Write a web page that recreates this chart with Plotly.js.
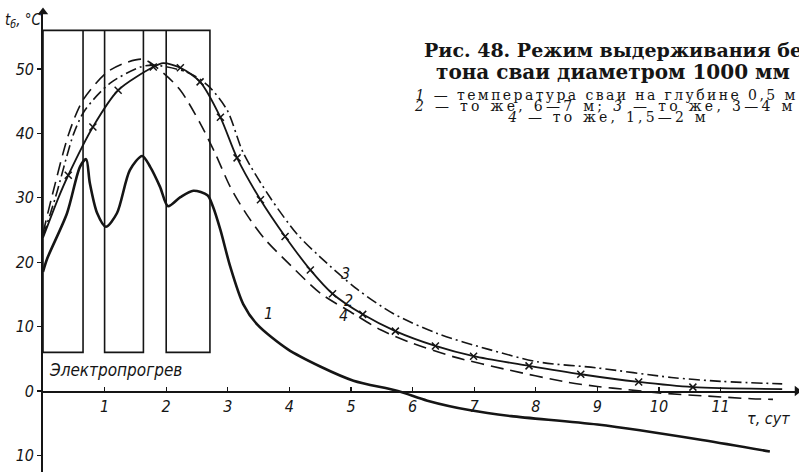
<!DOCTYPE html>
<html>
<head>
<meta charset="utf-8">
<script src="https://cdn.plot.ly/plotly-3.0.1.min.js"></script>
<style>
html,body{margin:0;padding:0;background:#fff;}
#chart{width:799px;height:472px;}
.annotation[data-index="2"] .annotation-text{letter-spacing:2.4px;}
.annotation[data-index="3"] .annotation-text{letter-spacing:3.3px;}
.annotation[data-index="4"] .annotation-text{letter-spacing:3.2px;}
</style>
</head>
<body>
<div id="chart"></div>
<script>
// ---- data (days, °C) ----
const days1 = [0, 0.07, 0.39, 0.6, 0.7, 0.76, 0.88, 1.02, 1.2, 1.41, 1.61, 1.74, 1.9, 2.03, 2.23, 2.44, 2.67, 2.76, 2.88, 3.04, 3.25, 3.48, 3.97, 4.5, 5.04, 5.76, 6.24, 6.94, 7.6, 9.0, 10.7, 11.8];
const temp1 = [18.5, 20.6, 27.6, 34.8, 36.0, 32.3, 27.6, 25.5, 27.6, 34.3, 36.5, 34.8, 31.7, 28.7, 30.1, 31.1, 30.4, 28.6, 25.0, 19.3, 13.5, 10.3, 6.5, 3.8, 1.6, 0, -1.5, -3.0, -3.9, -5.2, -7.6, -9.4];

const days2 = [0, 0.25, 0.41, 0.81, 1.22, 1.79, 1.95, 2.23, 2.55, 2.88, 3.15, 3.53, 3.93, 4.34, 4.7, 5.19, 5.72, 6.37, 6.99, 7.89, 8.73, 9.67, 10.55, 12.0];
const temp2 = [23.8, 30.0, 33.5, 41.0, 46.7, 50.3, 50.9, 50.2, 48.0, 42.5, 36.2, 29.7, 24.0, 18.8, 15.1, 11.9, 9.3, 7.0, 5.4, 3.9, 2.6, 1.4, 0.6, 0.3];
const days2Marks = [0.41, 0.81, 1.22, 1.79, 2.23, 2.55, 2.88, 3.15, 3.53, 3.93, 4.34, 4.7, 5.19, 5.72, 6.37, 6.99, 7.89, 8.73, 9.67, 10.55];
const temp2Marks = [33.5, 41.0, 46.7, 50.3, 50.2, 48.0, 42.5, 36.2, 29.7, 24.0, 18.8, 15.1, 11.9, 9.3, 7.0, 5.4, 3.9, 2.6, 1.4, 0.6];

const days3 = [0, 0.2, 0.5, 0.68, 1.09, 1.58, 1.8, 2.34, 2.67, 2.99, 3.25, 3.69, 4.13, 4.5, 5.1, 5.69, 6.41, 7.22, 8.05, 8.98, 10.2, 11.0, 12.0];
const temp3 = [24.0, 30.0, 40.0, 43.6, 47.8, 50.3, 50.6, 49.5, 47.5, 43.6, 37.0, 30.0, 24.3, 20.8, 15.8, 12.0, 8.9, 6.5, 4.5, 3.6, 2.1, 1.5, 1.1];

const days4 = [0, 0.14, 0.42, 0.65, 1.04, 1.35, 1.63, 1.95, 2.23, 2.55, 2.8, 3.04, 3.3, 3.6, 4.02, 4.5, 5.04, 5.48, 5.97, 6.67, 7.54, 8.49, 9.0, 9.5, 10.0, 10.8, 11.5, 11.85];
const temp4 = [24.5, 30.0, 40.0, 45.2, 49.5, 51.0, 51.5, 49.4, 46.7, 41.6, 36.8, 31.7, 27.5, 23.6, 19.5, 15.2, 12.0, 9.5, 7.5, 5.3, 3.3, 1.4, 0.7, 0.2, -0.3, -0.8, -1.2, -1.3];

// electric heating periods (days) and the band drawn for them (°C)
const heatStart = [0, 1, 2];
const heatEnd = [0.65, 1.63, 2.71];
const heatTop = 56;
const heatBottom = 6;

const xTickVals = [1, 2, 3, 4, 5, 6, 7, 8, 9, 10, 11];
const xTickText = ['1', '2', '3', '4', '5', '6', '7', '8', '9', '10', '11'];
const yTickVals = [-10, 0, 10, 20, 30, 40, 50];
const yTickText = ['10', '0', '10', '20', '30', '40', '50'];

const curveNames = ['1', '2', '3', '4'];
const titleLine1 = 'Рис. 48. Режим выдерживания бе';
const titleLine2 = 'тона сваи диаметром 1000 мм';
const legendLines = ['<i>1</i> — температура сваи на глубине 0,5 м',
                     '<i>2</i> — то же, 6—7 м; <i>3</i> — то же, 3—4 м',
                     '<i>4</i> — то же, 1,5—2 м'];
const heatLabel = 'Электропрогрев';

// ---- build heating path from the periods ----
const heatX = [], heatY = [];
heatStart.forEach((s, i) => {
  heatX.push(s, s, heatEnd[i], heatEnd[i]);
  heatY.push(heatTop, heatBottom, heatBottom, heatTop);
});
heatX.push(heatStart[0]); heatY.push(heatTop);

const INK = '#151515';
const W = 799, H = 472, L = 43, R = 2, T = 12, B = 0;
const PX = px => (px - L) / (W - L - R);
const PY = py => (H - B - py) / (H - T - B);
const xMax = (W - L - R) / 61.6;
const yMin = -12.58, yMax = 58.85;

const handFont = {family: 'DejaVu Sans Condensed, DejaVu Sans', size: 16, color: INK, style: 'italic'};
const serifFont = {family: 'DejaVu Serif, Liberation Serif', size: 14, color: INK};

const traces = [
  {x: heatX, y: heatY, mode: 'lines', line: {color: INK, width: 1.6}, hoverinfo: 'skip'},
  {x: days4, y: temp4, mode: 'lines', name: curveNames[3], line: {color: INK, width: 1.6, dash: '13px,7px', shape: 'spline', smoothing: 0.8}},
  {x: days3, y: temp3, mode: 'lines', name: curveNames[2], line: {color: INK, width: 1.6, dash: '11px,4px,2px,4px', shape: 'spline', smoothing: 0.8}},
  {x: days2, y: temp2, mode: 'lines', name: curveNames[1], line: {color: INK, width: 1.8, shape: 'spline', smoothing: 0.8}},
  {x: days2Marks, y: temp2Marks, mode: 'markers', marker: {symbol: 'x-thin', size: 7, line: {color: INK, width: 1.5}}},
  {x: days1, y: temp1, mode: 'lines', name: curveNames[0], line: {color: INK, width: 2.6, shape: 'spline', smoothing: 0.8}},
  // axis arrowheads at the ends of the axes
  {x: [0, xMax], y: [yMax, 0], mode: 'markers', cliponaxis: false, hoverinfo: 'skip',
   marker: {symbol: ['triangle-up', 'triangle-right'], size: 9, color: INK}}
];

const annotations = [
  {xref: 'paper', yref: 'paper', x: PX(422), y: PY(50), xanchor: 'left', yanchor: 'middle', showarrow: false,
   text: '<b>' + titleLine1 + '</b>', font: {family: 'DejaVu Serif, Liberation Serif', size: 19, color: INK}},
  {xref: 'paper', yref: 'paper', x: PX(613), y: PY(72), xanchor: 'center', yanchor: 'middle', showarrow: false,
   text: '<b>' + titleLine2 + '</b>', font: {family: 'DejaVu Serif, Liberation Serif', size: 20, color: INK}},
  {xref: 'paper', yref: 'paper', x: PX(606), y: PY(95), xanchor: 'center', yanchor: 'middle', showarrow: false, text: legendLines[0], font: serifFont},
  {xref: 'paper', yref: 'paper', x: PX(605), y: PY(106), xanchor: 'center', yanchor: 'middle', showarrow: false, text: legendLines[1], font: serifFont},
  {xref: 'paper', yref: 'paper', x: PX(608), y: PY(117), xanchor: 'center', yanchor: 'middle', showarrow: false, text: legendLines[2], font: serifFont},
  {xref: 'paper', yref: 'paper', x: PX(47), y: PY(370), xanchor: 'left', yanchor: 'middle', showarrow: false, text: heatLabel, font: Object.assign({}, handFont, {size: 17})},
  {xref: 'paper', yref: 'paper', x: PX(3), y: PY(20), xanchor: 'left', yanchor: 'middle', showarrow: false, text: 't<sub>б</sub>, °C', font: Object.assign({}, handFont, {size: 15})},
  {xref: 'paper', yref: 'paper', x: PX(745), y: PY(418), xanchor: 'left', yanchor: 'middle', showarrow: false, text: 'τ, сут', font: handFont},
  {xref: 'paper', yref: 'paper', x: PX(262), y: PY(313), showarrow: false, text: curveNames[0], font: handFont},
  {xref: 'paper', yref: 'paper', x: PX(348), y: PY(300), showarrow: false, text: curveNames[1], font: handFont},
  {xref: 'paper', yref: 'paper', x: PX(345), y: PY(273), showarrow: false, text: curveNames[2], font: handFont},
  {xref: 'paper', yref: 'paper', x: PX(343), y: PY(327), showarrow: false, text: curveNames[3], font: handFont}
];

const layout = {
  width: W, height: H,
  margin: {l: L, r: R, t: T, b: B, pad: 0},
  paper_bgcolor: '#fff', plot_bgcolor: '#fff',
  showlegend: false,
  xaxis: {
    range: [0, xMax], anchor: 'free', position: (0 - yMin) / (yMax - yMin),
    showgrid: false, zeroline: false, showline: true, linecolor: INK, linewidth: 1.6,
    ticks: 'inside', ticklen: 4, tickwidth: 1.3, tickcolor: INK,
    tickvals: xTickVals, ticktext: xTickText, tickfont: handFont
  },
  yaxis: {
    range: [yMin, yMax], showgrid: false, zeroline: false, showline: true, linecolor: INK, linewidth: 1.8,
    ticks: 'outside', ticklen: 4, tickwidth: 1.3, tickcolor: INK,
    tickvals: yTickVals, ticktext: yTickText, tickfont: handFont
  },
  annotations: annotations
};

Plotly.newPlot('chart', traces, layout, {displayModeBar: false, staticPlot: true});
</script>
</body>
</html>
